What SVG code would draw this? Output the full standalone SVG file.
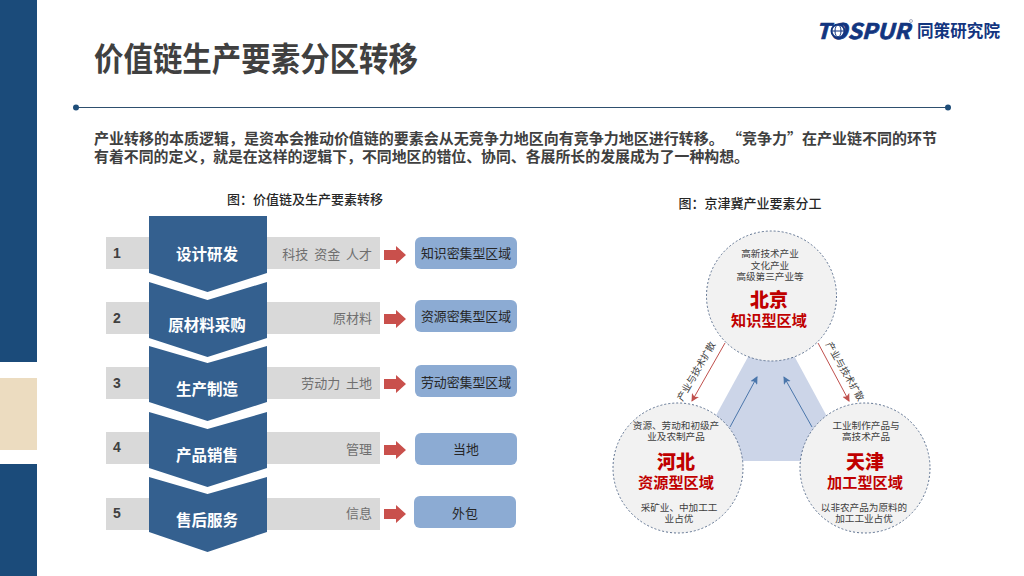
<svg xmlns="http://www.w3.org/2000/svg" width="1024" height="576" viewBox="0 0 1024 576">
<style>
text{font-family:"Noto Sans CJK SC","Liberation Sans",sans-serif}
.navy{fill:#1b4b7a}
.row{fill:#d9d9d9}
.chev{fill:#34608f}
.box{fill:#8cabd3}
.arr{fill:#c9504c}
.num{font-family:"Liberation Sans",sans-serif;font-size:14px;font-weight:700;fill:#404040}
.cl{font-size:15.5px;font-weight:700;fill:#fff;text-anchor:middle}
.res{font-size:13px;fill:#6f6f6f;text-anchor:end}
.bl{font-size:12.9px;fill:#262626;text-anchor:middle}
.cap{font-size:13px;font-weight:500;fill:#262626;text-anchor:middle}
.body{font-size:14.6px;font-weight:700;fill:#404040}
.circ{fill:#f2f2f2;stroke:#5f7391;stroke-width:1;stroke-dasharray:2 2}
.small{font-size:9.6px;fill:#404040;text-anchor:middle}
.title{text-anchor:middle;fill:#c00000}
.city{font-size:19px;font-weight:900}
.zone{font-size:15.2px;font-weight:700}
.rl{stroke:#c0504d;stroke-width:1;fill:none;marker-end:url(#mr)}
.bl-l{stroke:#4a76ab;stroke-width:1;fill:none;marker-end:url(#mb)}
.diag{font-size:9.5px;fill:#404040;text-anchor:middle}
</style>
<defs>
<marker id="mr" markerWidth="8" markerHeight="8" refX="7" refY="4" orient="auto" markerUnits="userSpaceOnUse"><path d="M0 0L8 4L0 8L2 4Z" fill="#c0504d"/></marker>
<marker id="mb" markerWidth="8" markerHeight="8" refX="7" refY="4" orient="auto" markerUnits="userSpaceOnUse"><path d="M0 0L8 4L0 8L2 4Z" fill="#4a76ab"/></marker>
<path id="ra" d="M384 -5H396V-9L406 0L396 9V5H384Z"/>
</defs>
<rect width="1024" height="576" fill="#fff"/>
<g id="sidebar">
<rect class="navy" x="0" y="0" width="37" height="362"/>
<rect x="0" y="378" width="37" height="72" fill="#ecdcc0"/>
<rect class="navy" x="0" y="464" width="37" height="112"/>
</g>
<g id="header">
<text x="94" y="71" font-size="32.4" font-weight="700" fill="#404040" textLength="324" lengthAdjust="spacingAndGlyphs">价值链生产要素分区转移</text>
<line x1="76" y1="107.500" x2="948" y2="107.500" stroke="#2e4f6e" stroke-width="1"/>
<circle cx="76" cy="107.500" r="3" fill="#1f4e79"/>
<circle cx="948" cy="107.500" r="3" fill="#1f4e79"/>
<text class="body"><tspan x="94" y="144" textLength="843" lengthAdjust="spacingAndGlyphs">产业转移的本质逻辑，是资本会推动价值链的要素会从无竞争力地区向有竞争力地区进行转移。 “竞争力”在产业链不同的环节</tspan><tspan x="94" y="162" textLength="655" lengthAdjust="spacingAndGlyphs">有着不同的定义，就是在这样的逻辑下，不同地区的错位、协同、各展所长的发展成为了一种构想。</tspan></text>
</g>
<g id="logo">
<text x="816" y="39" font-family="Liberation Sans" font-size="21.500" font-weight="700" font-style="italic" fill="#12357f" stroke="#12357f" stroke-width=".7" textLength="94" lengthAdjust="spacingAndGlyphs">TOSPUR</text>
<circle cx="838" cy="31" r="6.500" fill="#fff" stroke="#12357f" stroke-width="2"/>
<ellipse cx="838" cy="31" rx="3" ry="6" fill="none" stroke="#12357f"/>
<line x1="832" y1="31" x2="844" y2="31" stroke="#12357f"/>
<circle cx="911" cy="21" r="1.500" fill="none" stroke="#8a8fa8" stroke-width=".7"/>
<text x="917" y="37" font-size="16.500" font-weight="700" fill="#12357f" textLength="83" lengthAdjust="spacingAndGlyphs">同策研究院</text>
</g>
<text class="cap" x="305" y="204">图：价值链及生产要素转移</text>
<text class="cap" x="750" y="208">图：京津冀产业要素分工</text>
<g id="rows">
<g id="row1"><rect class="row" x="106" y="237" width="274" height="32"/><text class="num" x="113" y="258">1</text></g>
<g id="row2"><rect class="row" x="106" y="302" width="274" height="32"/><text class="num" x="113" y="323">2</text></g>
<g id="row3"><rect class="row" x="106" y="367" width="274" height="32"/><text class="num" x="113" y="388">3</text></g>
<g id="row4"><rect class="row" x="106" y="432" width="274" height="32"/><text class="num" x="113" y="452">4</text></g>
<g id="row5"><rect class="row" x="106" y="498" width="274" height="32"/><text class="num" x="113" y="518">5</text></g>
</g>
<g id="chevrons">
<g id="c1"><path class="chev" d="M149 216H267V273L207.500 292L149 273Z"/><text class="cl" x="207" y="260">设计研发</text></g>
<g id="c2"><path class="chev" d="M149 282L207.500 300L267 282V338L207.500 357L149 338Z"/><text class="cl" x="207" y="331">原材料采购</text></g>
<g id="c3"><path class="chev" d="M149 346L207.500 363L267 346V402L207.500 421L149 402Z"/><text class="cl" x="207" y="395">生产制造</text></g>
<g id="c4"><path class="chev" d="M149 412L207.500 429L267 412V468L207.500 487L149 468Z"/><text class="cl" x="207" y="461">产品销售</text></g>
<g id="c5"><path class="chev" d="M149 477L207.500 494L267 477V532L207.500 552L149 532Z"/><text class="cl" x="207" y="526">售后服务</text></g>
</g>
<g id="resources">
<text class="res" x="372" y="259" style="white-space:pre">科技  资金  人才</text>
<text class="res" x="372" y="323">原材料</text>
<text class="res" x="372" y="388" style="white-space:pre">劳动力  土地</text>
<text class="res" x="372" y="454">管理</text>
<text class="res" x="372" y="518">信息</text>
</g>
<g id="arrows" class="arr">
<use href="#ra" y="255"/>
<use href="#ra" y="319"/>
<use href="#ra" y="384"/>
<use href="#ra" y="450"/>
<use href="#ra" y="514"/>
</g>
<g id="targets">
<g id="t1"><rect class="box" x="415" y="237" width="102" height="32" rx="6"/><text class="bl" x="466" y="258">知识密集型区域</text></g>
<g id="t2"><rect class="box" x="415" y="300" width="102" height="32" rx="6"/><text class="bl" x="466" y="321">资源密集型区域</text></g>
<g id="t3"><rect class="box" x="415" y="365" width="102" height="32" rx="6"/><text class="bl" x="466" y="387">劳动密集型区域</text></g>
<g id="t4"><rect class="box" x="415" y="433" width="102" height="32" rx="6"/><text class="bl" x="466" y="454">当地</text></g>
<g id="t5"><rect class="box" x="414" y="496" width="102" height="32" rx="6"/><text class="bl" x="465" y="518">外包</text></g>
</g>
<path id="triangle" d="M771.500 314L851 461H691Z" fill="#ccd5e8"/>
<g id="connectors">
<line class="bl-l" x1="730" y1="427" x2="757" y2="377"/>
<line class="bl-l" x1="812" y1="427" x2="784" y2="377"/>
<line class="rl" x1="725" y1="343" x2="692" y2="401"/>
<line class="rl" x1="818" y1="343" x2="849" y2="401"/>
<text class="diag" transform="translate(699 373) rotate(-60)">产业与技术扩散</text>
<text class="diag" transform="translate(842 373) rotate(60)">产业与技术扩散</text>
</g>
<g id="beijing">
<circle class="circ" cx="771.500" cy="296" r="65"/>
<text class="small"><tspan x="770" y="257">高新技术产业</tspan><tspan x="770" y="269">文化产业</tspan><tspan x="770" y="280">高级第三产业等</tspan></text>
<text class="title"><tspan class="city" x="769" y="307">北京</tspan><tspan class="zone" x="769" y="326">知识型区域</tspan></text>
</g>
<g id="hebei">
<circle class="circ" cx="678" cy="468" r="65"/>
<text class="small"><tspan x="676" y="429">资源、劳动和初级产</tspan><tspan x="676" y="440">业及农制产品</tspan></text>
<text class="title"><tspan class="city" x="676" y="469">河北</tspan><tspan class="zone" x="676" y="488">资源型区域</tspan></text>
<text class="small"><tspan x="679" y="511">采矿业、中加工工</tspan><tspan x="679" y="522">业占优</tspan></text>
</g>
<g id="tianjin">
<circle class="circ" cx="865" cy="468" r="65"/>
<text class="small"><tspan x="866" y="429">工业制作产品与</tspan><tspan x="866" y="440">高技术产品</tspan></text>
<text class="title"><tspan class="city" x="865" y="469">天津</tspan><tspan class="zone" x="865" y="488">加工型区域</tspan></text>
<text class="small"><tspan x="864" y="511">以非农产品为原料的</tspan><tspan x="864" y="522">加工工业占优</tspan></text>
</g>
</svg>
